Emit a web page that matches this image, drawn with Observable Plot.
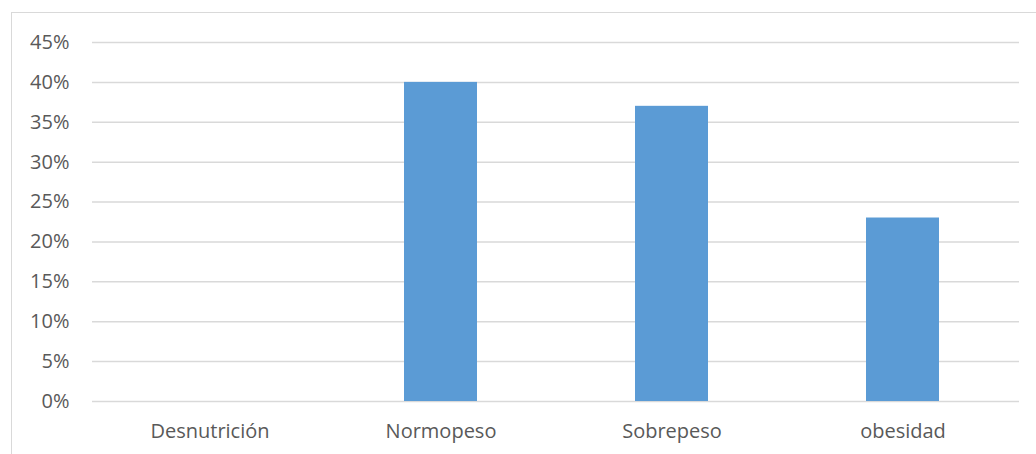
<!DOCTYPE html>
<html>
<head>
<meta charset="utf-8">
<script src="https://cdn.jsdelivr.net/npm/d3@7"></script>
<script src="https://cdn.jsdelivr.net/npm/@observablehq/plot@0.6"></script>
<style>
  html, body { margin: 0; padding: 0; background: #fff; }
  #chart { position: relative; width: 1036px; height: 454px; overflow: hidden; }
  #frame { position: absolute; left: 11px; top: 12px; width: 1100px; height: 500px;
           border: 1.5px solid #d9d9d9; box-sizing: border-box; pointer-events: none; }
  #chart svg { position: absolute; left: 0; top: 0; }
</style>
</head>
<body>
<div id="chart"><div id="frame"></div></div>
<script>
// Nutritional status categories and their share of the sample
const categories = ["Desnutrición", "Normopeso", "Sobrepeso", "obesidad"];
const shares = [0, 0.40, 0.37, 0.23];
const yTicks = [0, 0.05, 0.10, 0.15, 0.20, 0.25, 0.30, 0.35, 0.40, 0.45];

const rows = categories.map((c, i) => ({category: c, share: shares[i]}));

const chart = Plot.plot({
  width: 1036,
  height: 454,
  marginLeft: 92,
  marginRight: 17,
  marginTop: 42,
  marginBottom: 53,
  style: {fontFamily: "'Open Sans', sans-serif", fontSize: "20px", color: "#595959", background: "transparent"},
  x: {domain: categories, paddingInner: 0.685, paddingOuter: 0.3425, label: null},
  y: {domain: [0, 0.45], ticks: yTicks, label: null},
  marks: [
    Plot.gridY(yTicks, {stroke: "#d9d9d9", strokeOpacity: 1, strokeWidth: 1.5}),
    Plot.barY(rows, {x: "category", y: "share", fill: "#5b9bd5"}),
    Plot.axisY(yTicks, {
      tickSize: 0, tickPadding: 23, tickFormat: d => `${Math.round(d * 100)}%`,
      fill: "#595959", fontSize: 20, label: null
    }),
    Plot.axisX({
      tickSize: 0, tickPadding: 22, fill: "#595959", fontSize: 20, label: null
    })
  ]
});
document.getElementById("chart").appendChild(chart);
</script>
</body>
</html>
